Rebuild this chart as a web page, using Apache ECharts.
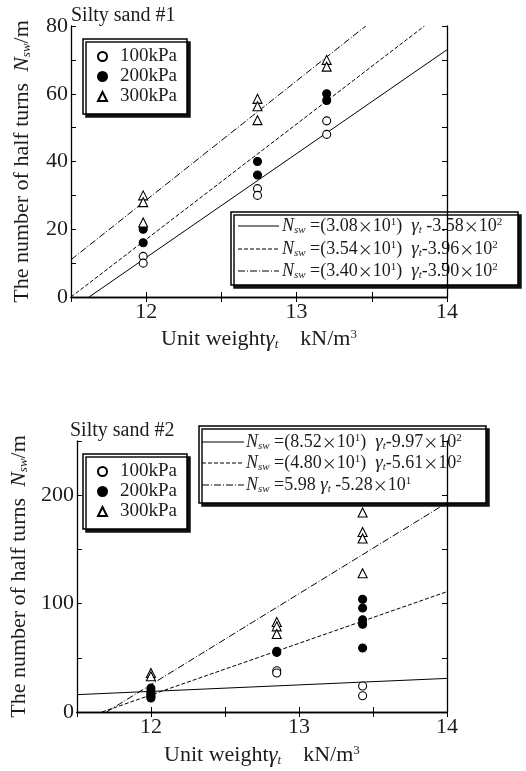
<!DOCTYPE html>
<html>
<head>
<meta charset="utf-8">
<script src="https://cdn.jsdelivr.net/npm/echarts@6/dist/echarts.min.js"></script>
<style>
  html, body { margin: 0; padding: 0; background: #fff; }
  #chart { width: 526px; height: 771px; }
</style>
</head>
<body>
<div id="chart"></div>
<script>
// Silty sand #1 (upper panel) — [unit weight, Nsw]
const top100 = [[11.98, 12], [11.98, 10], [12.74, 32], [12.74, 30], [13.2, 52], [13.2, 48]];
const top200 = [[11.98, 20], [11.98, 16], [12.74, 40], [12.74, 36], [13.2, 60], [13.2, 58]];
const top300 = [[11.98, 30], [11.98, 28], [11.98, 22], [12.74, 58.5], [12.74, 56.3], [12.74, 52.2], [13.2, 70], [13.2, 68]];
const topSolid = [[11.62, 0], [14, 73]];
const topDashed = [[11.5, 0], [13.85, 80]];
const topDashDot = [[11.5, 11], [13.46, 80]];

// Silty sand #2 (lower panel)
const bot100 = [[12.0, 17], [12.0, 14], [12.85, 38], [12.85, 36], [13.43, 24], [13.43, 15]];
const bot200 = [[12.0, 22], [12.0, 19], [12.0, 16], [12.0, 13], [12.85, 56], [12.85, 55], [13.43, 104], [13.43, 96], [13.43, 85], [13.43, 81], [13.43, 59]];
const bot300 = [[12.0, 36], [12.0, 33], [12.85, 83], [12.85, 79], [12.85, 72], [13.43, 184], [13.43, 166], [13.43, 160], [13.43, 128]];
const botSolid = [[11.5, 16], [14, 31]];
const botDashed = [[11.67, 0], [14, 111]];
const botDashDot = [[11.7, 0], [14, 193]];

const pressures = ['100kPa', '200kPa', '300kPa'];
const topEquations = [
  '{n|N}{s|sw} =(3.08{x|×}10{p|1})  {g|γ}{s|t} -3.58{x|×}10{p|2}',
  '{n|N}{s|sw} =(3.54{x|×}10{p|1})  {g|γ}{s|t}-3.96{x|×}10{p|2}',
  '{n|N}{s|sw} =(3.40{x|×}10{p|1})  {g|γ}{s|t}-3.90{x|×}10{p|2}'
];
const botEquations = [
  '{n|N}{s|sw} =(8.52{x|×}10{p|1})  {g|γ}{s|t}-9.97{x|×}10{p|2}',
  '{n|N}{s|sw} =(4.80{x|×}10{p|1})  {g|γ}{s|t}-5.61{x|×}10{p|2}',
  '{n|N}{s|sw} =5.98 {g|γ}{s|t} -5.28{x|×}10{p|1}'
];

const FONT = "'Liberation Serif', 'Times New Roman', serif";
const CJK = "'Noto Sans CJK JP', sans-serif";
const INK = '#1c1c1c';
const dashes = ['solid', [4, 2], [7, 2, 1, 2]];

const rich = {
  n: {fontFamily: FONT, fontSize: 18, fontStyle: 'italic', fill: INK},
  g: {fontFamily: FONT, fontSize: 19, fontStyle: 'italic', fill: INK},
  x: {fontFamily: CJK, fontSize: 15, fill: INK},
  s: {fontFamily: FONT, fontSize: 11, fontStyle: 'italic', verticalAlign: 'bottom', fill: INK},
  p: {fontFamily: FONT, fontSize: 11, verticalAlign: 'top', fill: INK}
};

function xAxes(gridIndex) {
  const base = {
    type: 'value', gridIndex, min: 11.5, max: 14, interval: 0.5,
    axisLine: {lineStyle: {color: '#000', width: 1.3}},
    axisTick: {inside: true, length: 5, lineStyle: {color: '#000'}},
    splitLine: {show: false}
  };
  return [
    Object.assign({}, base, {
      position: 'bottom',
      axisLabel: {
        margin: 4, fontFamily: FONT, fontSize: 22, color: INK,
        formatter: v => (Math.abs(v - Math.round(v)) < 1e-6 ? String(Math.round(v)) : '')
      },
      name: '{t|Unit weight}{g|γ}{s|t}{t|    kN/m}{p|3}',
      nameLocation: 'middle',
      nameGap: gridIndex === 0 ? 31 : 32,
      nameTextStyle: {
        fontFamily: FONT, fontSize: 22, color: INK,
        rich: {
          t: {fontFamily: FONT, fontSize: 22, color: INK},
          g: {fontFamily: FONT, fontSize: 23, fontStyle: 'italic', color: INK},
          s: {fontFamily: FONT, fontSize: 13, fontStyle: 'italic', verticalAlign: 'bottom', color: INK},
          p: {fontFamily: FONT, fontSize: 13, verticalAlign: 'top', color: INK}
        }
      }
    }),
    Object.assign({}, base, {position: 'top', axisLabel: {show: false}})
  ];
}

function yAxes(gridIndex, max, interval, labelStep) {
  const base = {
    type: 'value', gridIndex, min: 0, max, interval,
    axisLine: {show: true, lineStyle: {color: '#000', width: 1.3}},
    axisTick: {show: true, inside: true, length: 5, lineStyle: {color: '#000'}},
    splitLine: {show: false}
  };
  return [
    Object.assign({}, base, {
      position: 'left',
      axisLabel: {
        margin: 3, fontFamily: FONT, fontSize: 22, color: INK,
        formatter: v => (v % labelStep === 0 ? String(v) : '')
      },
      name: '{t|The number of half turns  }{n|N}{s|sw}{t|/m}',
      nameLocation: 'middle',
      nameGap: 38,
      nameTextStyle: {
        fontFamily: FONT, fontSize: 22, color: INK,
        rich: {
          t: {fontFamily: FONT, fontSize: 22, color: INK},
          n: {fontFamily: FONT, fontSize: 22, fontStyle: 'italic', color: INK},
          s: {fontFamily: FONT, fontSize: 13, fontStyle: 'italic', verticalAlign: 'bottom', color: INK}
        }
      }
    }),
    Object.assign({}, base, {position: 'right', axisLabel: {show: false}})
  ];
}

function scatter(name, data, xi, yi) {
  const idx = pressures.indexOf(name);
  return {
    name, type: 'scatter', data, xAxisIndex: xi, yAxisIndex: yi, z: 5,
    symbol: idx === 2 ? 'triangle' : 'circle',
    symbolSize: idx === 2 ? 9 : 8,
    itemStyle: {
      color: idx === 1 ? '#000' : '#fff',
      borderColor: '#000',
      borderWidth: 1.1,
      opacity: 1
    },
    emphasis: {disabled: true}
  };
}

function fitLine(data, style, xi, yi) {
  return {
    type: 'line', data, xAxisIndex: xi, yAxisIndex: yi, z: 2,
    symbol: 'none', silent: true,
    lineStyle: {color: '#000', width: 1, type: style}
  };
}

function legendBox(left, top) {
  return {
    orient: 'vertical', left, top, data: pressures, selectedMode: false,
    itemWidth: 9, itemHeight: 9, itemGap: 1,
    padding: [8, 10, 8, 14],
    textStyle: {fontFamily: FONT, fontSize: 19, color: INK, lineHeight: 18, padding: [0, 0, 0, 8]},
    backgroundColor: '#fff', borderColor: '#000', borderWidth: 1.5, borderRadius: 0,
    shadowColor: '#111', shadowOffsetX: 3, shadowOffsetY: 3, shadowBlur: 0
  };
}

function equationBox(x, y, w, h, rowsY, lineX1, lineX2, textX, texts) {
  const children = [{
    type: 'rect',
    shape: {x: 0, y: 0, width: w, height: h},
    style: {fill: '#fff', stroke: '#000', lineWidth: 1.5, shadowColor: '#111', shadowOffsetX: 3, shadowOffsetY: 3, shadowBlur: 0}
  }];
  texts.forEach((t, i) => {
    children.push({
      type: 'line',
      shape: {x1: lineX1, y1: rowsY[i], x2: lineX2, y2: rowsY[i]},
      style: {stroke: '#000', lineWidth: 1, lineDash: dashes[i] === 'solid' ? null : dashes[i]}
    });
    children.push({
      type: 'text',
      x: textX, y: rowsY[i],
      style: {
        text: t, rich, fontFamily: FONT, fontSize: 18, fill: INK,
        verticalAlign: 'middle', align: 'left'
      }
    });
  });
  return {type: 'group', x, y, z: 100, children};
}

const chart = echarts.init(document.getElementById('chart'));
chart.setOption({
  backgroundColor: '#fff',
  animation: false,
  title: [
    {text: 'Silty sand #1', left: 71, top: 6, padding: 0, textStyle: {fontFamily: FONT, fontSize: 20, fontWeight: 'normal', color: INK}},
    {text: 'Silty sand #2', left: 70, top: 421, padding: 0, textStyle: {fontFamily: FONT, fontSize: 20, fontWeight: 'normal', color: INK}}
  ],
  grid: [
    {left: 71, top: 26, width: 376, height: 271},
    {left: 71, top: 441, width: 376, height: 271}
  ],
  legend: [legendBox(83, 39), legendBox(83, 454)],
  xAxis: [...xAxes(0), ...xAxes(1)],
  yAxis: [...yAxes(0, 80, 10, 20), ...yAxes(1, 250, 50, 100)],
  series: [
    fitLine(topSolid, dashes[0], 0, 0),
    fitLine(topDashed, dashes[1], 0, 0),
    fitLine(topDashDot, dashes[2], 0, 0),
    scatter('100kPa', top100, 0, 0),
    scatter('200kPa', top200, 0, 0),
    scatter('300kPa', top300, 0, 0),
    fitLine(botSolid, dashes[0], 2, 2),
    fitLine(botDashed, dashes[1], 2, 2),
    fitLine(botDashDot, dashes[2], 2, 2),
    scatter('100kPa', bot100, 2, 2),
    scatter('200kPa', bot200, 2, 2),
    scatter('300kPa', bot300, 2, 2)
  ],
  graphic: [
    equationBox(231, 212, 287, 73, [14, 37, 59], 7, 48, 51, topEquations),
    equationBox(199, 426, 287, 77, [16, 37, 59], 3, 45, 47, botEquations)
  ]
});
</script>
</body>
</html>
